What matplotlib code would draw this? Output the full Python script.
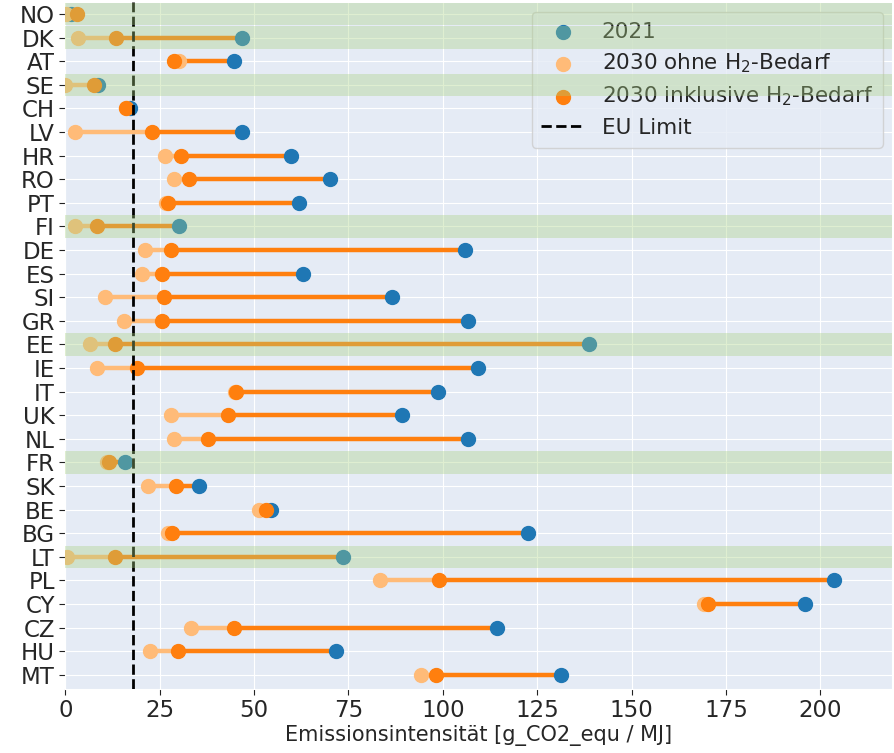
import matplotlib

matplotlib.use("Agg")
import matplotlib.pyplot as plt
import seaborn as sns

countries = ["NO", "DK", "AT", "SE", "CH", "LV", "HR", "RO", "PT", "FI",
             "DE", "ES", "SI", "GR", "EE", "IE", "IT", "UK", "NL", "FR",
             "SK", "BE", "BG", "LT", "PL", "CY", "CZ", "HU", "MT"]

# Emissionsintensität in g CO2-Äq. pro MJ
ist_2021 = [1.5, 46.9, 44.6, 8.6, 17.2, 46.8, 59.7, 70.0, 61.9, 30.2,
            105.8, 63.0, 86.4, 106.7, 138.8, 109.4, 98.6, 89.3, 106.7, 15.9,
            35.5, 54.4, 122.6, 73.6, 203.5, 195.9, 114.4, 71.6, 131.4]
ohne_h2_2030 = [0.2, 3.3, 30.1, 0.0, 16.0, 2.6, 26.5, 28.9, 26.8, 2.6,
                21.2, 20.3, 10.5, 15.5, 6.5, 8.4, 45.0, 27.9, 28.9, 11.0,
                21.8, 51.3, 27.1, 0.4, 83.4, 169.1, 33.3, 22.5, 94.2]
inkl_h2_2030 = [3.0, 13.4, 28.7, 7.5, 16.1, 22.9, 30.7, 32.9, 27.3, 8.3,
                28.0, 25.6, 26.1, 25.6, 13.3, 19.0, 45.1, 43.2, 37.9, 11.5,
                29.4, 53.2, 28.3, 13.3, 99.0, 170.3, 44.8, 29.8, 98.2]

eu_limit = 18.0
markiert = ["NO", "DK", "SE", "FI", "EE", "FR", "LT"]

c_2021 = "#1f77b4"
c_ohne = "#ffbb78"
c_inkl = "#ff7f0e"

sns.set_style("darkgrid", {"axes.facecolor": "#e5ebf5"})
plt.rcParams["font.family"] = ["DejaVu Sans"]
plt.rcParams["xtick.bottom"] = True
plt.rcParams["ytick.left"] = True

fig = plt.figure(figsize=(8.94, 7.53), dpi=100)
ax = fig.add_axes([0.073, 0.085, 0.925, 0.912])

y = list(range(len(countries)))

ax.hlines(y, ohne_h2_2030, inkl_h2_2030, color=c_ohne, linewidth=3.2, zorder=2)
ax.hlines(y, inkl_h2_2030, ist_2021, color=c_inkl, linewidth=3.2, zorder=2)

ax.scatter(ist_2021, y, s=100, color=c_2021, label="2021", zorder=3)
ax.scatter(ohne_h2_2030, y, s=100, color=c_ohne, label="2030 ohne H$_2$-Bedarf", zorder=4)
ax.scatter(inkl_h2_2030, y, s=100, color=c_inkl, label="2030 inklusive H$_2$-Bedarf", zorder=5)

ax.axvline(eu_limit, color="black", linestyle="--", linewidth=2, label="EU Limit", zorder=6)

for land in markiert:
    i = countries.index(land)
    ax.axhspan(i - 0.48, i + 0.48, color="#a8d182", alpha=0.36, linewidth=0, zorder=10)

ax.set_yticks(y)
ax.set_yticklabels(countries)
ax.set_ylim(28.6, -0.5)
ax.set_xlim(0, 219)
ax.set_xticks([0, 25, 50, 75, 100, 125, 150, 175, 200])
ax.tick_params(axis="both", labelsize=16.5, length=4, color="#222222")
ax.set_xlabel("Emissionsintensität [g_CO2_equ / MJ]", fontsize=15, labelpad=2)

ax.legend(loc="upper right", fontsize=15.5, framealpha=0.8, borderpad=0.45,
          handletextpad=0.8, labelspacing=0.45, borderaxespad=0.45)

fig.savefig("out.png", dpi=100)
plt.close(fig)
